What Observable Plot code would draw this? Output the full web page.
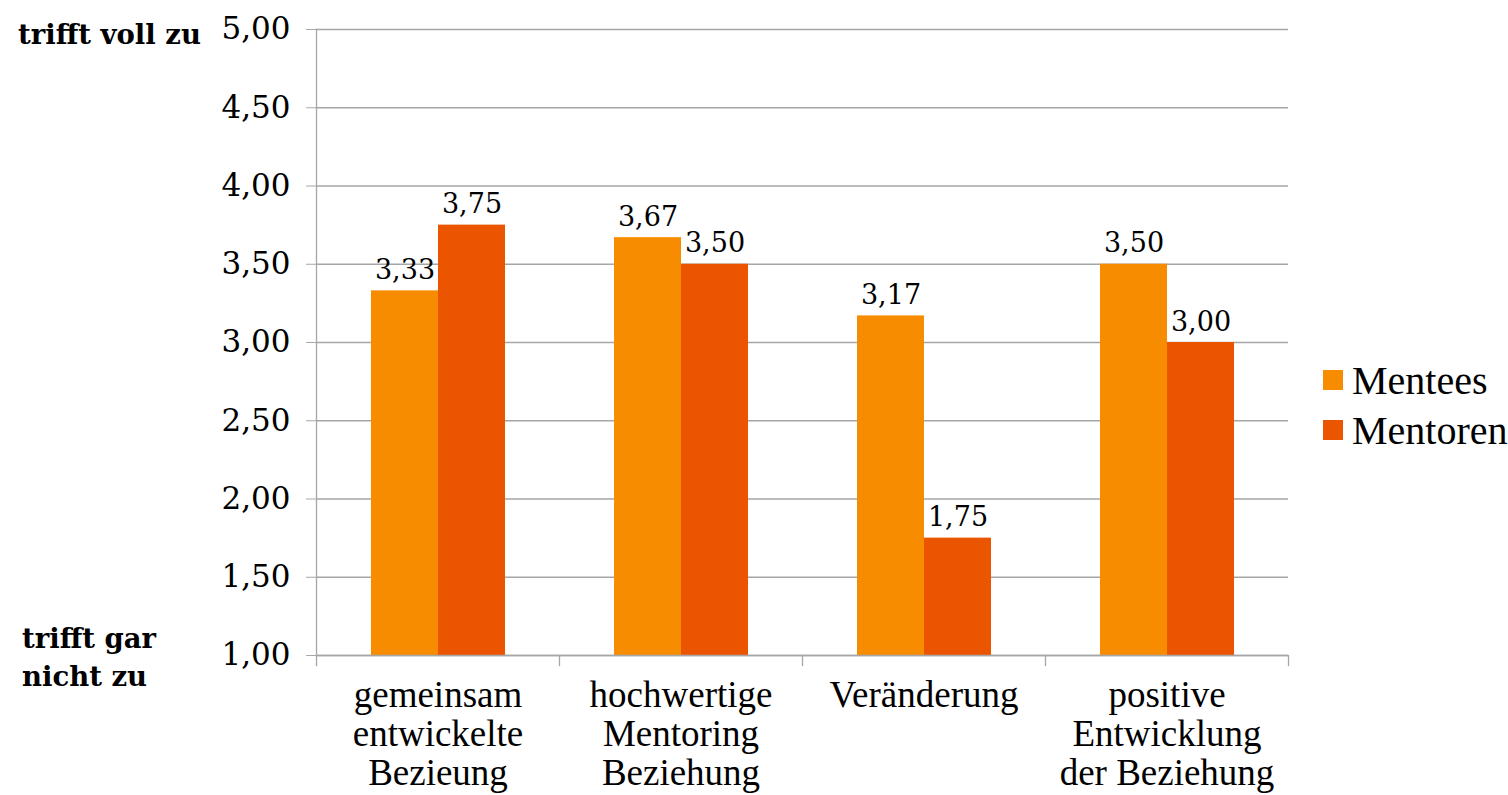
<!DOCTYPE html>
<html><head><meta charset="utf-8">
<script src="https://cdn.jsdelivr.net/npm/d3@7"></script>
<script src="https://cdn.jsdelivr.net/npm/@observablehq/plot@0.6"></script>
<style>
body{margin:0;background:#fff;}
#wrap{position:relative;width:1508px;height:795px;overflow:hidden;background:#fff;}
#chart{position:absolute;left:0;top:0;}
.lbl{position:absolute;font-family:"DejaVu Serif";font-weight:bold;font-size:27.5px;color:#000;line-height:38px;white-space:nowrap;}
#legend{position:absolute;left:1323px;top:355px;}
.lg{display:flex;align-items:center;height:50px;font-family:"Liberation Serif";font-size:40px;color:#000;}
.lg span.sw{display:inline-block;width:20px;height:20px;margin-right:9px;}
</style></head><body>
<div id="wrap">
  <div id="chart"></div>
  <div class="lbl" style="left:18px;top:15px;">trifft voll zu</div>
  <div class="lbl" style="left:22px;top:619px;">trifft gar<br>nicht zu</div>
  <div id="legend"></div>
</div>
<script>
const categories = ["gemeinsam\nentwickelte\nBezieung", "hochwertige\nMentoring\nBeziehung", "Veränderung", "positive\nEntwicklung\nder Beziehung"];
const series = ["Mentees", "Mentoren"];
const mentees = [3.33, 3.67, 3.17, 3.50];
const mentoren = [3.75, 3.50, 1.75, 3.00];
const yTicks = [1.00, 1.50, 2.00, 2.50, 3.00, 3.50, 4.00, 4.50, 5.00];
const colors = ["#f78c00", "#eb5500"];

const data = [];
categories.forEach((c, i) => {
  data.push({category: c, series: series[0], value: mentees[i]});
  data.push({category: c, series: series[1], value: mentoren[i]});
});
const fmt = v => d3.format(".2f")(v).replace(".", ",");

const W = 1300, H = 795, mT = 29, mB = 140, mL = 316, mR = 12;
const plotH = H - mT - mB;
const gray = "#a6a6a6";

const plot = Plot.plot({
  width: W, height: H,
  marginTop: mT, marginBottom: mB, marginLeft: mL, marginRight: mR,
  style: {fontFamily: "DejaVu Serif", background: "#fff", color: "#000"},
  fx: {domain: categories, padding: 0, label: null, axis: null},
  x: {domain: series, paddingInner: 0, paddingOuter: 0.81, axis: null},
  y: {domain: [1, 5], axis: null},
  color: {domain: series, range: colors},
  marks: [
    Plot.gridY(yTicks, {stroke: gray, strokeOpacity: 1, strokeWidth: 1.3}),
    Plot.barY(data, {fx: "category", x: "series", y1: 1, y2: "value", fill: "series"}),
    Plot.ruleY([1], {stroke: gray, strokeWidth: 1.3}),
    Plot.frame({anchor: "left", facetAnchor: "left", insetBottom: -10, stroke: gray, strokeWidth: 1.3}),
    Plot.frame({anchor: "right", insetTop: plotH, insetBottom: -10, stroke: gray, strokeWidth: 1.3}),
    Plot.axisY({ticks: yTicks, tickFormat: fmt, tickSize: 10, tickPadding: 16, fontSize: 31, stroke: gray, fill: "#000", label: null}),
    Plot.text(data, {fx: "category", x: "series", y: "value", text: d => fmt(d.value), lineAnchor: "bottom", dy: -12, fontSize: 27, fill: "#000"}),
    Plot.axisFx({anchor: "bottom", tickSize: 0, tickPadding: 24, fontSize: 37, fontFamily: "Liberation Serif", lineHeight: 1.05, label: null, fill: "#000"})
  ]
});
document.getElementById("chart").appendChild(plot);

const colorScale = plot.scale("color");
const lg = document.getElementById("legend");
colorScale.domain.forEach((s, i) => {
  const row = document.createElement("div");
  row.className = "lg";
  const sw = document.createElement("span");
  sw.className = "sw";
  sw.style.background = colorScale.range[i];
  row.appendChild(sw);
  row.appendChild(document.createTextNode(s));
  lg.appendChild(row);
});
</script>
</body></html>
